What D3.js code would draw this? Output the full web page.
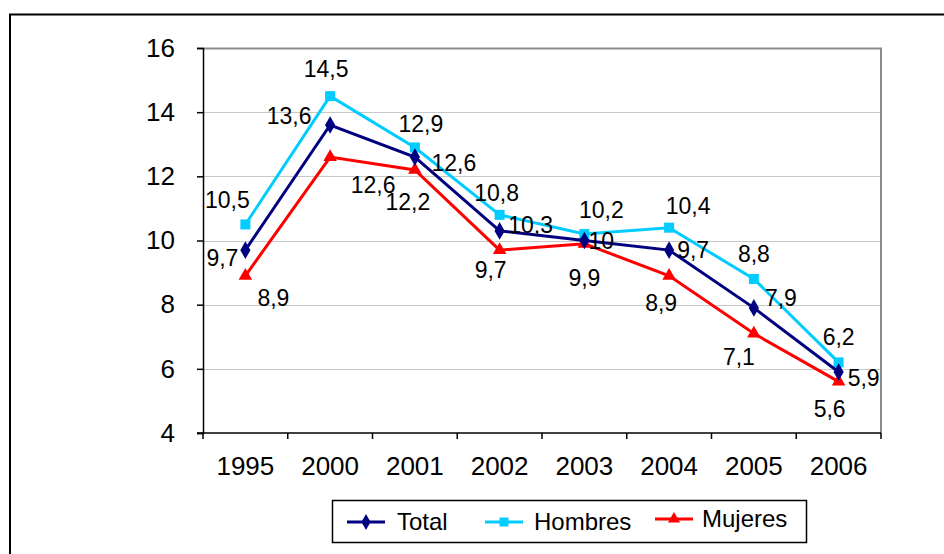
<!DOCTYPE html>
<html>
<head>
<meta charset="utf-8">
<script src="https://cdn.jsdelivr.net/npm/d3@7"></script>
<style>
	body { margin: 0; background: #fff; }
	svg { display: block; font-family: "Liberation Sans", Arial, sans-serif; }
</style>
</head>
<body>
<div id="chart"></div>
<script>
let YEARS = ["1995", "2000", "2001", "2002", "2003", "2004", "2005", "2006"];
let TOTAL = [9.7, 13.6, 12.6, 10.3, 10, 9.7, 7.9, 5.9];
let HOMBRES = [10.5, 14.5, 12.9, 10.8, 10.2, 10.4, 8.8, 6.2];
let MUJERES = [8.9, 12.6, 12.2, 9.7, 9.9, 8.9, 7.1, 5.6];
let Y_TICKS = [4, 6, 8, 10, 12, 14, 16];

// label placement per point (dx, dy from the marker centre to the text centre)
let TOTAL_LABEL = [[-23, 8], [-41, -9], [39, 6], [31, -6], [17, 0], [24, 0], [27, -10], [25, 6]];
let HOMBRES_LABEL = [[-18, -25], [-4, -27], [6, -24], [-3, -22], [17, -24], [19, -22], [0, -25], [0, -25]];
let MUJERES_LABEL = [[28, 22], [43, 28], [-7, 32], [-9, 20], [0, 34], [-8, 27], [-15, 23], [-9, 27]];

let WIDTH = 944, HEIGHT = 554;
let margin = { left: 203, right: 63, top: 48, bottom: 121 };

let svg = d3.select("#chart").append("svg").
	attr("width", WIDTH).
	attr("height", HEIGHT);

// outer frame, runs off the right and bottom edge
svg.append("rect").
	attr("x", 10).
	attr("y", 14.5).
	attr("width", 960).
	attr("height", 600).
	attr("fill", "none").
	attr("stroke", "#000").
	attr("stroke-width", 2);

let x = d3.scaleBand().
	domain(YEARS).
	range([margin.left, WIDTH - margin.right]);

let y = d3.scaleLinear().
	domain([4, 16]).
	range([HEIGHT - margin.bottom, margin.top]);

let cx = d => x(d) + x.bandwidth() / 2;

// gridlines
svg.append("g").
	selectAll("line").
	data(Y_TICKS.slice(1, -1)).
	join("line").
	attr("x1", margin.left).
	attr("x2", WIDTH - margin.right).
	attr("y1", d => Math.round(y(d)) + 0.5).
	attr("y2", d => Math.round(y(d)) + 0.5).
	attr("stroke", "#c8c8c8").
	attr("stroke-width", 1);

// grey top/right border of plot area
svg.append("path").
	attr("d", `M${margin.left},${margin.top + 0.5}H${WIDTH - margin.right}V${HEIGHT - margin.bottom}`).
	attr("fill", "none").
	attr("stroke", "#8a8a8a").
	attr("stroke-width", 2);

// y axis
let yAxis = svg.append("g").
	attr("transform", `translate(${margin.left},0)`).
	call(d3.axisLeft(y).tickValues(Y_TICKS).tickSize(6).tickPadding(22).tickFormat(d3.format("d")));
yAxis.select(".domain").attr("stroke", "#000").attr("stroke-width", 1.5);
yAxis.selectAll(".tick line").attr("stroke", "#000").attr("stroke-width", 1.5);
yAxis.selectAll("text").
	attr("font-size", 26).
	attr("font-family", "Liberation Sans, Arial, sans-serif").
	attr("fill", "#000");

// x axis: ticks on band boundaries
let xAxis = svg.append("g").
	attr("transform", `translate(0,${HEIGHT - margin.bottom})`);
xAxis.append("line").
	attr("x1", margin.left - 6).
	attr("x2", WIDTH - margin.right).
	attr("stroke", "#000").
	attr("stroke-width", 1.5);
xAxis.selectAll(".tk").
	data(YEARS.concat(["end"])).
	join("line").
	attr("class", "tk").
	attr("x1", (d, i) => margin.left + i * x.bandwidth()).
	attr("x2", (d, i) => margin.left + i * x.bandwidth()).
	attr("y1", 0).
	attr("y2", 6).
	attr("stroke", "#000").
	attr("stroke-width", 1.5);
xAxis.selectAll("text").
	data(YEARS).
	join("text").
	attr("x", d => cx(d)).
	attr("y", 42).
	attr("text-anchor", "middle").
	attr("font-size", 26).
	text(d => d);

let series = [
	{ name: "Total", values: TOTAL, color: "#000080", symbol: d3.symbolDiamond, size: 90, labels: TOTAL_LABEL },
	{ name: "Hombres", values: HOMBRES, color: "#00ccff", symbol: d3.symbolSquare, size: 100, labels: HOMBRES_LABEL },
	{ name: "Mujeres", values: MUJERES, color: "#ff0000", symbol: d3.symbolTriangle, size: 80, labels: MUJERES_LABEL }
];

let line = d3.line().
	x((d, i) => cx(YEARS[i])).
	y(d => y(d));

// draw Mujeres first, Hombres, then Total on top
let order = [series[2], series[1], series[0]];

order.forEach(s => {
	let g = svg.append("g");
	g.append("path").
		datum(s.values).
		attr("d", line).
		attr("fill", "none").
		attr("stroke", s.color).
		attr("stroke-width", 3);
	g.selectAll("path.m").
		data(s.values).
		join("path").
		attr("class", "m").
		attr("transform", (d, i) => `translate(${cx(YEARS[i])},${y(d)})`).
		attr("d", d3.symbol().type(s.symbol).size(s.size)).
		attr("fill", s.color);
});

series.forEach(s => {
	svg.append("g").
		selectAll("text").
		data(s.values).
		join("text").
		attr("x", (d, i) => cx(YEARS[i]) + s.labels[i][0]).
		attr("y", (d, i) => y(d) + s.labels[i][1]).
		attr("dy", "0.35em").
		attr("text-anchor", "middle").
		attr("font-size", 23).
		attr("fill", "#000").
		text(d => String(d).replace(".", ","));
});

// legend
let legend = svg.append("g");
legend.append("rect").
	attr("x", 332.5).
	attr("y", 500.5).
	attr("width", 474).
	attr("height", 42).
	attr("fill", "#fff").
	attr("stroke", "#000").
	attr("stroke-width", 1.5);

let legendX = [347, 485, 655];
let legendY = [522, 522, 519];
series.forEach((s, i) => {
	let lg = legend.append("g").
		attr("transform", `translate(${legendX[i]},${legendY[i]})`);
	lg.append("line").
		attr("x1", 0).
		attr("x2", 38).
		attr("stroke", s.color).
		attr("stroke-width", 3);
	lg.append("path").
		attr("transform", "translate(19,0)").
		attr("d", d3.symbol().type(s.symbol).size(s.size * 0.8)).
		attr("fill", s.color);
	lg.append("text").
		attr("x", i === 0 ? 50 : i === 1 ? 49 : 47).
		attr("dy", "0.35em").
		attr("font-size", 24).
		text(s.name);
});
</script>
</body>
</html>
